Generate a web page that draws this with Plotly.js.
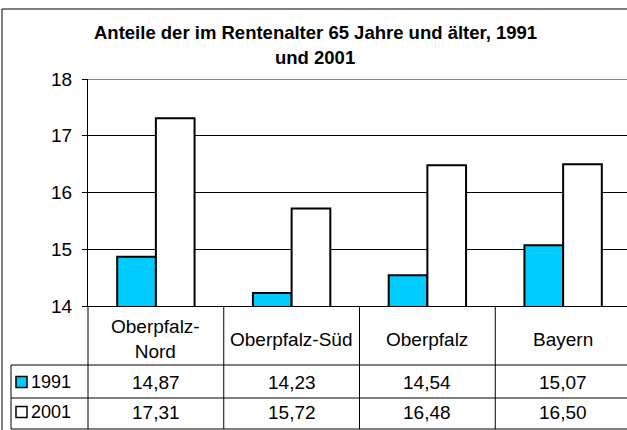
<!DOCTYPE html>
<html>
<head>
<meta charset="utf-8">
<script src="https://cdn.plot.ly/plotly-3.0.1.min.js"></script>
<style>
html, body { margin: 0; padding: 0; overflow: hidden; background: #fff; }
#chart { width: 640px; height: 440px; }
</style>
</head>
<body>
<div id="chart"></div>
<script>
// ---- data ----
var categories = ['Oberpfalz-Nord', 'Oberpfalz-Süd', 'Oberpfalz', 'Bayern'];
var categoryLabels = ['Oberpfalz-<br>Nord', 'Oberpfalz-Süd', 'Oberpfalz', 'Bayern'];
var seriesNames = ['1991', '2001'];
var values1991 = [14.87, 14.23, 14.54, 15.07];
var values2001 = [17.31, 15.72, 16.48, 16.50];
var seriesColors = ['#00CCFF', '#FFFFFF'];
var yTicks = [14, 15, 16, 17, 18];
var titleLines = ['Anteile der im Rentenalter 65 Jahre und älter, 1991', 'und 2001'];

// ---- geometry (pixels) ----
var W = 640, H = 440;
var L = 88, T = 79, PW = 543, PH = 227;
function px2x(px) { return (px - L) / PW; }
function px2y(py) { return (T + PH - py) / PH; }

var FONT = 'Liberation Sans, Arial, Helvetica, sans-serif';
var TFS = 19;

var allValues = [values1991, values2001];
var traces = seriesNames.map(function (name, i) {
  return {
    type: 'bar',
    name: name,
    x: categories,
    y: allValues[i],
    marker: { color: seriesColors[i], line: { color: '#000000', width: 2 } },
    hoverinfo: 'x+y'
  };
});

var shapes = [];
var annotations = [];
var black = { color: '#000000', width: 1 };

// outer chart border
shapes.push({ type: 'rect', xref: 'paper', yref: 'paper',
  x0: px2x(2), x1: px2x(800), y0: px2y(9), y1: px2y(600),
  line: black, fillcolor: 'rgba(0,0,0,0)' });
// plot area top border (grey)
shapes.push({ type: 'line', xref: 'paper', yref: 'y', x0: 0, x1: 1, y0: 18, y1: 18,
  line: { color: '#8c8c8c', width: 2 } });

// table horizontal lines
[365, 398, 429].forEach(function (py) {
  shapes.push({ type: 'line', xref: 'paper', yref: 'paper',
    x0: px2x(11), x1: px2x(800), y0: px2y(py), y1: px2y(py), line: black });
});
// table left border of legend column
shapes.push({ type: 'line', xref: 'paper', yref: 'paper',
  x0: px2x(11), x1: px2x(11), y0: px2y(365), y1: px2y(429), line: black });
// vertical line under the y axis
shapes.push({ type: 'line', xref: 'paper', yref: 'paper',
  x0: 0, x1: 0, y0: px2y(306), y1: px2y(429), line: black });
// category separators
for (var k = 0; k < categories.length - 1; k++) {
  shapes.push({ type: 'line', xref: 'x', yref: 'paper',
    x0: k + 0.5, x1: k + 0.5, y0: px2y(306), y1: px2y(429), line: black });
}

// title (two lines)
var titleY = [33, 58];
titleLines.forEach(function (t, i) {
  annotations.push({ xref: 'paper', yref: 'paper', x: px2x(315), y: px2y(titleY[i]),
    text: '<b>' + t + '</b>', showarrow: false, xanchor: 'center', yanchor: 'middle',
    font: { family: FONT, size: 18.5, color: '#000' } });
});

// category labels row
categories.forEach(function (c, i) {
  annotations.push({ xref: 'x', yref: 'paper', x: c, y: px2y(339),
    text: categoryLabels[i], showarrow: false, xanchor: 'center', yanchor: 'middle',
    font: { family: FONT, size: TFS, color: '#000' } });
});

// value rows + legend keys
var rowCenters = [382, 412];
seriesNames.forEach(function (name, s) {
  var cy = rowCenters[s];
  allValues[s].forEach(function (v, i) {
    annotations.push({ xref: 'x', yref: 'paper', x: categories[i], y: px2y(cy),
      text: v.toFixed(2).replace('.', ','), showarrow: false,
      xanchor: 'center', yanchor: 'middle',
      font: { family: FONT, size: TFS, color: '#000' } });
  });
  annotations.push({ xref: 'paper', yref: 'paper', x: px2x(29), y: px2y(cy),
    text: name, showarrow: false, xanchor: 'left', yanchor: 'middle',
    font: { family: FONT, size: 18, color: '#000' } });
  shapes.push({ type: 'rect', xref: 'paper', yref: 'paper',
    x0: px2x(16), x1: px2x(27), y0: px2y(cy - 5.5), y1: px2y(cy + 5.5),
    fillcolor: seriesColors[s], line: { color: '#000', width: 1.5 } });
});

var layout = {
  width: W, height: H,
  margin: { l: L, r: W - L - PW, t: T, b: H - T - PH, pad: 0 },
  paper_bgcolor: '#ffffff', plot_bgcolor: '#ffffff',
  showlegend: false,
  barmode: 'group', bargap: 0.43, bargroupgap: 0,
  xaxis: { type: 'category', showticklabels: false, ticks: '', showgrid: false,
    showline: true, linecolor: '#000', linewidth: 1, zeroline: false, fixedrange: true },
  yaxis: { range: [14, 18], tickvals: yTicks, ticktext: yTicks.map(String),
    showgrid: true, gridcolor: '#000', gridwidth: 1, zeroline: false,
    showline: true, linecolor: '#000', linewidth: 1,
    ticks: 'outside', ticklen: 5, tickcolor: '#000', tickwidth: 1,
    ticklabelstandoff: 6,
    tickfont: { family: FONT, size: 19, color: '#000' }, fixedrange: true },
  shapes: shapes,
  annotations: annotations
};

Plotly.newPlot('chart', traces, layout, { displayModeBar: false, staticPlot: true });
</script>
</body>
</html>
